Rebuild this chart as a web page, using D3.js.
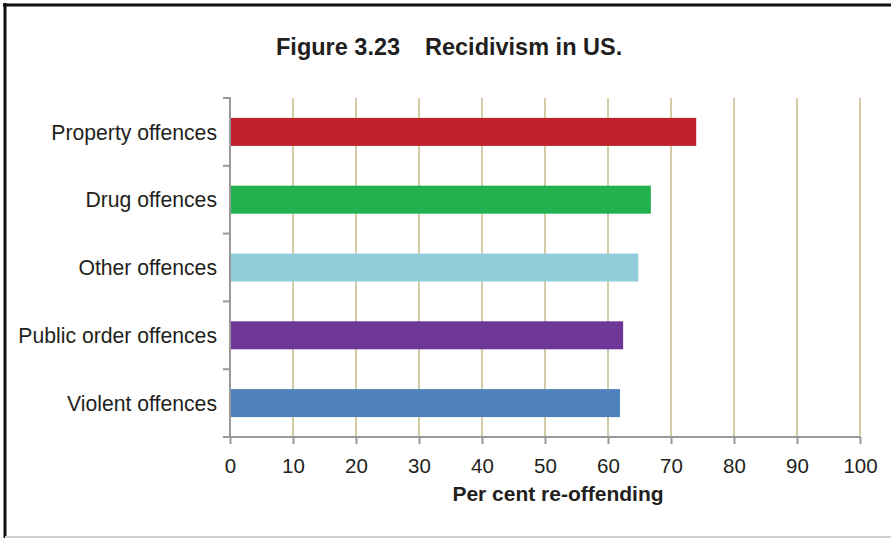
<!DOCTYPE html>
<html>
<head>
<meta charset="utf-8">
<script src="https://cdn.jsdelivr.net/npm/d3@7"></script>
<style>
  body { margin: 0; background: #fff; }
  svg { display: block; font-family: "Liberation Sans", Arial, sans-serif; }
</style>
</head>
<body>
<script>
let w = 891;
let h = 538;

// data
let categories = ["Property offences", "Drug offences", "Other offences", "Public order offences", "Violent offences"];
let values = [74.0, 66.8, 64.8, 62.4, 61.9];
let colors = ["#c0202a", "#21b24f", "#92cddc", "#6f3797", "#4f81bd"];
let xTicks = [0, 10, 20, 30, 40, 50, 60, 70, 80, 90, 100];

let margin = {left: 230, right: 31, top: 98, bottom: 101};

let xScale = d3.scaleLinear()
    .domain([0, 100])
    .range([margin.left, w - margin.right]);

let yScale = d3.scaleBand()
    .domain(categories)
    .range([margin.top, h - margin.bottom])
    .paddingInner(0.587)
    .paddingOuter(0.2935);

let yOuter = d3.scaleBand()
    .domain(categories)
    .range([margin.top, h - margin.bottom]);

let svg = d3.select("body")
    .append("svg")
    .attr("width", w)
    .attr("height", h);

// frame
svg.append("line").attr("x1", 3).attr("x2", w).attr("y1", 5).attr("y2", 5)
    .attr("stroke", "#111").attr("stroke-width", 3);
svg.append("line").attr("x1", 5).attr("x2", 5).attr("y1", 3).attr("y2", h)
    .attr("stroke", "#111").attr("stroke-width", 3);
svg.append("line").attr("x1", 5).attr("x2", w).attr("y1", 537).attr("y2", 537)
    .attr("stroke", "#d0d0d0").attr("stroke-width", 2);

// title
let title = svg.append("text")
    .attr("y", 55)
    .attr("font-size", "23.5px")
    .attr("font-weight", "bold")
    .attr("fill", "#231f20");
title.append("tspan").attr("x", 276).text("Figure 3.23");
title.append("tspan").attr("x", 425).text("Recidivism in US.");

let y0 = yOuter.range()[0];
let y1 = yOuter.range()[1];

// gridlines
svg.append("g")
    .selectAll("line")
    .data(xTicks.filter(d => d > 0))
    .enter()
    .append("line")
    .attr("x1", d => xScale(d))
    .attr("x2", d => xScale(d))
    .attr("y1", y0)
    .attr("y2", y1)
    .attr("stroke", "#d3cca6")
    .attr("stroke-width", 2);

// bars
svg.append("g")
    .selectAll("rect")
    .data(values)
    .enter()
    .append("rect")
    .attr("x", xScale(0))
    .attr("y", (d, i) => yScale(categories[i]))
    .attr("width", d => xScale(d) - xScale(0))
    .attr("height", yScale.bandwidth())
    .attr("fill", (d, i) => colors[i]);

// x axis
let xAxis = svg.append("g")
    .attr("transform", `translate(0,${y1})`)
    .call(d3.axisBottom(xScale).tickValues(xTicks).tickSize(7).tickPadding(14).tickSizeOuter(0));
xAxis.select(".domain").attr("stroke", "#999").attr("stroke-width", 2)
    .attr("d", `M${xScale(0) - 7},0H${xScale(100)}`);
xAxis.selectAll(".tick line").attr("stroke", "#999").attr("stroke-width", 2);
xAxis.selectAll(".tick text")
    .attr("font-size", "20.5px")
    .attr("font-family", "'Liberation Sans', Arial, sans-serif")
    .attr("fill", "#231f20");

// y axis
let boundaries = categories.map(c => yOuter(c)).concat([y1]);
let yAxis = svg.append("g");
yAxis.append("line")
    .attr("x1", xScale(0)).attr("x2", xScale(0))
    .attr("y1", y0 - 1).attr("y2", y1)
    .attr("stroke", "#999").attr("stroke-width", 2);
yAxis.selectAll("line.tk")
    .data(boundaries)
    .enter()
    .append("line")
    .attr("class", "tk")
    .attr("x1", xScale(0) - 7).attr("x2", xScale(0))
    .attr("y1", d => d).attr("y2", d => d)
    .attr("stroke", "#999").attr("stroke-width", 2);
yAxis.selectAll("text")
    .data(categories)
    .enter()
    .append("text")
    .text(d => d)
    .attr("x", xScale(0) - 13)
    .attr("y", d => yOuter(d) + yOuter.bandwidth() / 2)
    .attr("dy", "0.36em")
    .attr("text-anchor", "end")
    .attr("font-size", "21.2px")
    .attr("fill", "#231f20");

// x axis title
svg.append("text")
    .attr("x", 558)
    .attr("y", 501)
    .attr("text-anchor", "middle")
    .attr("font-size", "21px")
    .attr("font-weight", "bold")
    .attr("fill", "#231f20")
    .text("Per cent re-offending");
</script>
</body>
</html>
